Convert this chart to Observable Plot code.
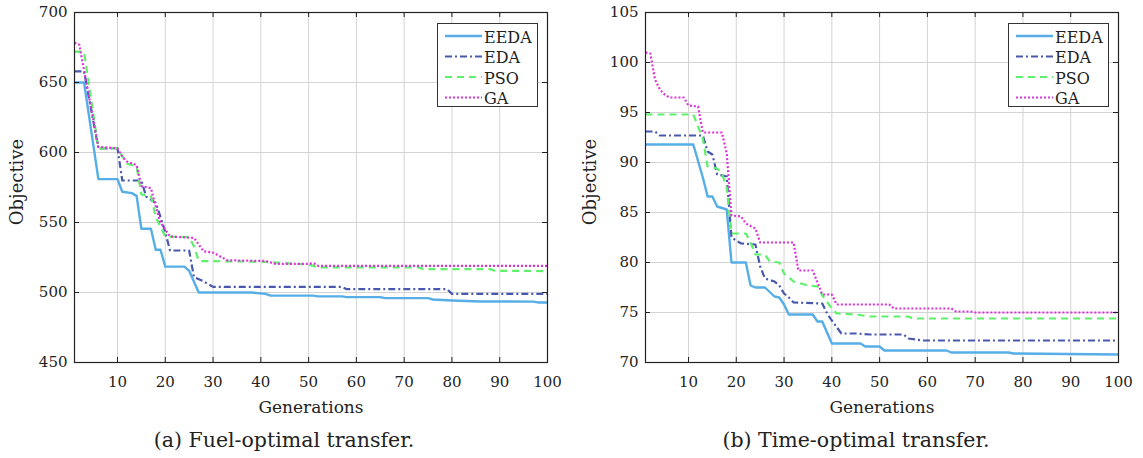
<!DOCTYPE html>
<html>
<head>
<meta charset="utf-8">
<script src="https://cdn.jsdelivr.net/npm/d3@7"></script>
<script src="https://cdn.jsdelivr.net/npm/@observablehq/plot@0.6"></script>
<style>
  html, body { margin: 0; padding: 0; background: #fff; }
  #page { position: relative; width: 1143px; height: 458px; overflow: hidden; background: #fff; font-family: "DejaVu Serif", serif; color: #222; }
  .chart { position: absolute; top: 0; }
  .lbl { position: absolute; white-space: nowrap; line-height: 1; transform: translate(-50%, -50%); }
  .ylbl { position: absolute; white-space: nowrap; line-height: 1; transform: translate(-50%, -50%) rotate(-90deg); }
</style>
</head>
<body>
<div id="page">
  <div id="left" class="chart" style="left:0px"></div>
  <div id="right" class="chart" style="left:571px"></div>
  <div class="ylbl" style="left:17px; top:182px; font-size:18px">Objective</div>
  <div class="ylbl" style="left:590px; top:182px; font-size:18px">Objective</div>
  <div class="lbl" style="left:311px; top:407px; font-size:17px">Generations</div>
  <div class="lbl" style="left:882px; top:407px; font-size:17px">Generations</div>
  <div class="lbl" style="left:284px; top:440px; font-size:20.5px">(a) Fuel-optimal transfer.</div>
  <div class="lbl" style="left:856px; top:440px; font-size:20.5px">(b) Time-optimal transfer.</div>
</div>
<script>
// ---------- data ----------
const seriesNames = ["EEDA", "EDA", "PSO", "GA"];
const xTicks = [10, 20, 30, 40, 50, 60, 70, 80, 90, 100];
const yTicksFuel = [450, 500, 550, 600, 650, 700];
const yTicksTime = [70, 75, 80, 85, 90, 95, 100, 105];

// Fuel-optimal transfer
const eedaFuelGen = [1,3,6,10,11,13,14,15,17,18,19,20,24,25,27,38,41,42,51,52,57,58,65,66,75,76,80,86,97,98,100];
const eedaFuelVal = [650,650,581,581,572,571,569,545.5,545.5,530.5,530.5,518.5,518.5,515.5,500,500,499,497.8,497.8,497.2,497.2,496.7,496.7,496,496,495,494.3,493.6,493.5,492.9,492.9];
const edaFuelGen = [1,3,6,10,11,15,16,18,19,20,21,25,26,28,30,57,58,79,80,100];
const edaFuelVal = [658,658,603,603,580,580,568.5,564,554,543,530,530,511,508,504,504,502.4,502.4,499,499];
const psoFuelGen = [1,3,6,10,12,14,15,17,18,20,25,26,27,40,50,52,73,74,88,89,100];
const psoFuelVal = [672,672,603,603,592,590,570,569,554,540,539.5,533,522.5,522,520,518,518,516.7,516.7,515.5,515.3];
const gaFuelGen = [1,2,6,10,11,12,14,15,17,18,19,21,26,28,30,33,41,43,50,51,52,100];
const gaFuelVal = [678.5,677,604,603,597,593.5,591,576,574.5,561.5,550,540,539,529.5,528.5,523,522.5,520.5,520.5,521,519,519];

// Time-optimal transfer
const eedaTimeGen = [1,11,13,14,15,16,18,19,22,23,24,26,28,29,30,31,36,37,38,40,46,47,50,51,64,65,77,78,100];
const eedaTimeVal = [91.8,91.8,88.5,86.6,86.6,85.6,85.3,80,80,77.7,77.5,77.5,76.6,76.5,75.8,74.8,74.8,74.1,74.1,71.9,71.9,71.6,71.6,71.2,71.2,71.0,71.0,70.9,70.8];
const edaTimeGen = [1,3,4,13,14,15,16,18,19,21,24,25,26,28,29,30,31,32,38,39,40,42,45,48,55,56,59,100];
const edaTimeVal = [93.1,93.1,92.7,92.7,91.1,90.8,88.8,88.6,82.5,81.9,81.8,79.6,78.4,78.1,77.7,76.9,76.5,76.0,75.9,74.9,74.2,72.9,72.9,72.8,72.8,72.4,72.2,72.2];
const psoTimeGen = [1,11,13,14,16,17,18,19,22,23,24,26,27,29,30,32,35,37,38,40,41,45,48,56,57,100];
const psoTimeVal = [94.8,94.8,92.4,89.6,89.4,88.9,87.5,82.9,82.9,82,80.8,80.8,80.1,80,78.9,78.1,77.7,77.6,76.7,75.4,74.9,74.8,74.6,74.6,74.4,74.4];
const gaTimeGen = [1,2,3,4,5,6,9,10,12,13,17,18,19,21,22,24,25,32,33,36,38,40,41,52,53,65,66,69,70,100];
const gaTimeVal = [101,100.9,98.3,97.3,96.8,96.5,96.5,95.7,95.6,93,93,90.9,84.7,84.6,83.9,83.4,82,82,79.2,79.2,76.8,76.8,75.8,75.8,75.4,75.4,75.1,75.1,75.0,75.0];

// ---------- styles ----------
const styles = {
  EEDA: { stroke: "#57aee6", strokeWidth: 2.4, dash: null },
  EDA:  { stroke: "#4858ad", strokeWidth: 2.2, dash: "7,3,2,3" },
  PSO:  { stroke: "#5ef06a", strokeWidth: 2.2, dash: "7,5" },
  GA:   { stroke: "#dd33dd", strokeWidth: 2.2, dash: "2,2" }
};

function toRows(gens, vals) { return gens.map((g, i) => ({ g, v: vals[i] })); }

function makeChart(seriesData, yDomain, yTicks, width) {
  const H = 400, mT = 12, mB = 38, mL = 74, mR = width - 547;
  const fw = width - mL - mR, fh = H - mT - mB;
  const lineMarks = seriesNames.map(name => {
    const s = styles[name];
    return Plot.line(seriesData[name], {
      x: "g", y: "v", stroke: s.stroke, strokeWidth: s.strokeWidth,
      strokeDasharray: s.dash, strokeLinejoin: "round", strokeLinecap: "butt"
    });
  });
  const svg = Plot.plot({
    width, height: H, marginTop: mT, marginBottom: mB, marginLeft: mL, marginRight: mR,
    style: { fontFamily: "DejaVu Serif", fontSize: "15px", color: "#222", background: "transparent" },
    x: { domain: [1, 100], ticks: xTicks, tickSize: 0, tickPadding: 14, label: null },
    y: { domain: yDomain, ticks: yTicks, tickSize: 0, tickPadding: 7, label: null },
    marks: [
      Plot.ruleX(xTicks, { stroke: "#d4d4d4", strokeWidth: 1 }),
      Plot.ruleY(yTicks, { stroke: "#d4d4d4", strokeWidth: 1 }),
      ...lineMarks,
      Plot.ruleX(xTicks, { stroke: "#222", insetTop: fh - 5 }),
      Plot.ruleX(xTicks, { stroke: "#222", insetBottom: fh - 5 }),
      Plot.ruleY(yTicks, { stroke: "#222", insetRight: fw - 5 }),
      Plot.ruleY(yTicks, { stroke: "#222", insetLeft: fw - 5 }),
      Plot.frame({ stroke: "#222", strokeWidth: 1.2 })
    ]
  });
  // legend box (inside plot, top-right)
  const g = d3.select(svg).append("g").attr("text-anchor", "start");
  g.append("rect").attr("x", 437.5).attr("y", 23.5).attr("width", 100).attr("height", 83)
    .attr("fill", "#fff").attr("stroke", "#333").attr("stroke-width", 1);
  const rowsY = [36, 56.5, 77, 97.5];
  seriesNames.forEach((name, i) => {
    const s = styles[name];
    g.append("line").attr("x1", 445).attr("x2", 482).attr("y1", rowsY[i]).attr("y2", rowsY[i])
      .attr("stroke", s.stroke).attr("stroke-width", s.strokeWidth)
      .attr("stroke-dasharray", s.dash);
    g.append("text").attr("x", 484).attr("y", rowsY[i] + 1).attr("dy", "0.35em")
      .attr("text-anchor", "start")
      .attr("font-family", "DejaVu Serif").attr("font-size", 16).attr("fill", "#222").text(name);
  });
  return svg;
}

const fuelData = {
  EEDA: toRows(eedaFuelGen, eedaFuelVal), EDA: toRows(edaFuelGen, edaFuelVal),
  PSO: toRows(psoFuelGen, psoFuelVal), GA: toRows(gaFuelGen, gaFuelVal)
};
const timeData = {
  EEDA: toRows(eedaTimeGen, eedaTimeVal), EDA: toRows(edaTimeGen, edaTimeVal),
  PSO: toRows(psoTimeGen, psoTimeVal), GA: toRows(gaTimeGen, gaTimeVal)
};

document.getElementById("left").appendChild(makeChart(fuelData, [450, 700], yTicksFuel, 571));
document.getElementById("right").appendChild(makeChart(timeData, [70, 105], yTicksTime, 572));
</script>
</body>
</html>
